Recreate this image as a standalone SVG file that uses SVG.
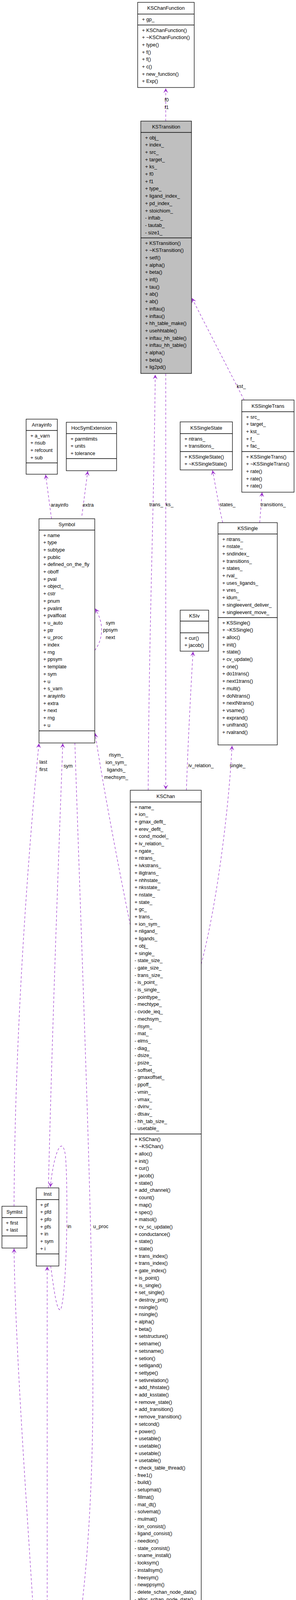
<svg xmlns="http://www.w3.org/2000/svg" width="759" height="4549" viewBox="0 0 759 4549">
<style>
.b{fill:#fff;stroke:#000;stroke-width:1.3}
.g{fill:#bfbfbf;stroke:#000;stroke-width:1.3}
.s{stroke:#000;stroke-width:1.3}
text{font-family:"Liberation Sans",Arial,sans-serif;font-size:12.7px;fill:#000}
.t{text-anchor:middle}
.e{fill:none;stroke:#9a32cd;stroke-width:1.2;stroke-dasharray:6,5;marker-end:url(#a)}
</style>
<defs>
<marker id="a" markerUnits="userSpaceOnUse" markerWidth="16" markerHeight="12" refX="12" refY="6" orient="auto">
<path d="M0,0 L12,6 L0,12 L5,6 z" fill="#9a32cd"/>
</marker>
</defs>
<rect width="759" height="4549" fill="#fff"/>
<g id="connectors">
<path class="e" d="M425,310 L425,226"/>
<path class="e" d="M380,2023 C382,1600 395,1300 398,959"/>
<path class="e" d="M425,957 L425,2021"/>
<path class="e" d="M626,1024 L492,763"/>
<path class="e" d="M571,1338 C560,1290 552,1240 545,1204"/>
<path class="e" d="M666,1338 L672,1260"/>
<path class="e" d="M478,2023 C482,1900 490,1750 495,1668"/>
<path class="e" d="M516,2468 C560,2300 588,2050 595,1909"/>
<path class="e" d="M334,2368 C300,2200 262,2000 244,1877"/>
<path class="e" d="M132,1328 L117,1215"/>
<path class="e" d="M210,1320 L225,1206"/>
<path class="e" d="M243,1665 C262,1640 270,1600 244,1558"/>
<path class="e" d="M36,3088 C38,2600 80,2100 100,1903"/>
<path class="e" d="M124,3041 C135,2600 150,2200 161,1903"/>
<path class="e" d="M192,1902 C215,2600 240,3200 238,3600 C236,3900 212,4200 164,4355"/>
<path class="e" d="M130,3241 C138,3300 146,3362 156,3352 C172,3300 175,3050 168,2960 C160,2900 138,2950 129,3039"/>
<path class="e" d="M99,4353 C80,4000 40,3500 36,3196"/>
<path class="e" d="M121,4353 L121,3242"/>
<path class="e" d="M335,4334 L335,4259"/>
<path class="e" d="M365,4258 L360,4333"/>
<path class="e" d="M453,4258 L463,4324"/>
<path class="e" d="M497,4325 L493,4259"/>
<text x="422" y="260">f0</text><text x="422" y="279">f1</text>
<text x="383" y="1296">trans_</text><text x="425" y="1296">ks_</text>
<text x="607" y="993">kst_</text>
<text x="563" y="1296">states_</text><text x="668" y="1296">transitions_</text>
<text x="483" y="1964">iv_relation_</text>
<text x="589" y="1964">single_</text>
<text class="t" x="298" y="1937">rlsym_</text><text class="t" x="298" y="1956">ion_sym_</text><text class="t" x="298" y="1975">ligands_</text><text class="t" x="298" y="1994">mechsym_</text>
<text x="101" y="1955">last</text><text x="101" y="1974">first</text>
<text x="163" y="1965">sym</text>
<text class="t" x="283" y="1599">sym</text><text class="t" x="283" y="1617">ppsym</text><text class="t" x="283" y="1636">next</text>
<text x="130" y="1297">arayinfo</text><text x="212" y="1297">extra</text>
<text x="173" y="3144">in</text><text x="239" y="3144">u_proc</text>
<text x="90" y="4295">list</text><text x="121" y="4295">defn</text>
<text x="335" y="4295">ks_</text><text x="362" y="4295">state_</text>
<text x="458" y="4295">gc_</text><text x="493" y="4295">ks_</text>
</g>
<g id="KSChanFunction">
<rect class="b" x="353" y="6" width="145" height="218"/>
<line class="s" x1="353" y1="36" x2="498" y2="36"/><line class="s" x1="353" y1="64" x2="498" y2="64"/>
<text class="t" x="425.5" y="25">KSChanFunction</text>
<text x="364" y="53.5">+ gp_</text>
<text x="364" y="81.5"><tspan x="364">+ KSChanFunction()</tspan><tspan x="364" dy="18.7">+ ~KSChanFunction()</tspan><tspan x="364" dy="18.7">+ type()</tspan><tspan x="364" dy="18.7">+ f()</tspan><tspan x="364" dy="18.7">+ f()</tspan><tspan x="364" dy="18.7">+ c()</tspan><tspan x="364" dy="18.7">+ new_function()</tspan><tspan x="364" dy="18.7">+ Exp()</tspan></text>
</g>
<g id="KSTransition">
<rect class="g" x="361" y="310" width="130" height="646"/>
<line class="s" x1="361" y1="339" x2="491" y2="339"/><line class="s" x1="361" y1="609" x2="491" y2="609"/>
<text class="t" x="426" y="329">KSTransition</text>
<text x="372" y="356.5"><tspan x="372">+ obj_</tspan><tspan x="372" dy="18.7">+ index_</tspan><tspan x="372" dy="18.7">+ src_</tspan><tspan x="372" dy="18.7">+ target_</tspan><tspan x="372" dy="18.7">+ ks_</tspan><tspan x="372" dy="18.7">+ f0</tspan><tspan x="372" dy="18.7">+ f1</tspan><tspan x="372" dy="18.7">+ type_</tspan><tspan x="372" dy="18.7">+ ligand_index_</tspan><tspan x="372" dy="18.7">+ pd_index_</tspan><tspan x="372" dy="18.7">+ stoichiom_</tspan><tspan x="372" dy="18.7">- inftab_</tspan><tspan x="372" dy="18.7">- tautab_</tspan><tspan x="372" dy="18.7">- size1_</tspan></text>
<text x="372" y="626.5"><tspan x="372">+ KSTransition()</tspan><tspan x="372" dy="18.7">+ ~KSTransition()</tspan><tspan x="372" dy="18.7">+ setf()</tspan><tspan x="372" dy="18.7">+ alpha()</tspan><tspan x="372" dy="18.7">+ beta()</tspan><tspan x="372" dy="18.7">+ inf()</tspan><tspan x="372" dy="18.7">+ tau()</tspan><tspan x="372" dy="18.7">+ ab()</tspan><tspan x="372" dy="18.7">+ ab()</tspan><tspan x="372" dy="18.7">+ inftau()</tspan><tspan x="372" dy="18.7">+ inftau()</tspan><tspan x="372" dy="18.7">+ hh_table_make()</tspan><tspan x="372" dy="18.7">+ usehhtable()</tspan><tspan x="372" dy="18.7">+ inftau_hh_table()</tspan><tspan x="372" dy="18.7">+ inftau_hh_table()</tspan><tspan x="372" dy="18.7">+ alpha()</tspan><tspan x="372" dy="18.7">+ beta()</tspan><tspan x="372" dy="18.7">+ lig2pd()</tspan></text>
</g>
<g id="Arrayinfo">
<rect class="b" x="67" y="1073" width="80" height="141"/>
<line class="s" x1="67" y1="1102" x2="147" y2="1102"/><line class="s" x1="67" y1="1185" x2="147" y2="1185"/>
<text class="t" x="107" y="1092">Arrayinfo</text>
<text x="78" y="1119.5"><tspan x="78">+ a_varn</tspan><tspan x="78" dy="18.7">+ nsub</tspan><tspan x="78" dy="18.7">+ refcount</tspan><tspan x="78" dy="18.7">+ sub</tspan></text>
</g>
<g id="HocSymExtension">
<rect class="b" x="170" y="1081" width="129" height="124"/>
<line class="s" x1="170" y1="1110" x2="299" y2="1110"/><line class="s" x1="170" y1="1174" x2="299" y2="1174"/>
<text class="t" x="234.5" y="1100">HocSymExtension</text>
<text x="181" y="1127.5"><tspan x="181">+ parmlimits</tspan><tspan x="181" dy="18.7">+ units</tspan><tspan x="181" dy="18.7">+ tolerance</tspan></text>
</g>
<g id="KSSingleTrans">
<rect class="b" x="620" y="1024" width="134" height="236"/>
<line class="s" x1="620" y1="1054" x2="754" y2="1054"/><line class="s" x1="620" y1="1156" x2="754" y2="1156"/>
<text class="t" x="687" y="1044">KSSingleTrans</text>
<text x="631" y="1071.5"><tspan x="631">+ src_</tspan><tspan x="631" dy="18.7">+ target_</tspan><tspan x="631" dy="18.7">+ kst_</tspan><tspan x="631" dy="18.7">+ f_</tspan><tspan x="631" dy="18.7">+ fac_</tspan></text>
<text x="631" y="1173.5"><tspan x="631">+ KSSingleTrans()</tspan><tspan x="631" dy="18.7">+ ~KSSingleTrans()</tspan><tspan x="631" dy="18.7">+ rate()</tspan><tspan x="631" dy="18.7">+ rate()</tspan><tspan x="631" dy="18.7">+ rate()</tspan></text>
</g>
<g id="KSSingleState">
<rect class="b" x="462" y="1080" width="134" height="123"/>
<line class="s" x1="462" y1="1110" x2="596" y2="1110"/><line class="s" x1="462" y1="1156" x2="596" y2="1156"/>
<text class="t" x="529" y="1100">KSSingleState</text>
<text x="473" y="1127.5"><tspan x="473">+ ntrans_</tspan><tspan x="473" dy="18.7">+ transitions_</tspan></text>
<text x="473" y="1173.5"><tspan x="473">+ KSSingleState()</tspan><tspan x="473" dy="18.7">+ ~KSSingleState()</tspan></text>
</g>
<g id="KSSingle">
<rect class="b" x="559" y="1338" width="152" height="569"/>
<line class="s" x1="559" y1="1367" x2="711" y2="1367"/><line class="s" x1="559" y1="1581" x2="711" y2="1581"/>
<text class="t" x="635" y="1357">KSSingle</text>
<text x="570" y="1384.5"><tspan x="570">+ ntrans_</tspan><tspan x="570" dy="18.7">+ nstate_</tspan><tspan x="570" dy="18.7">+ sndindex_</tspan><tspan x="570" dy="18.7">+ transitions_</tspan><tspan x="570" dy="18.7">+ states_</tspan><tspan x="570" dy="18.7">+ rval_</tspan><tspan x="570" dy="18.7">+ uses_ligands_</tspan><tspan x="570" dy="18.7">+ vres_</tspan><tspan x="570" dy="18.7">+ idum_</tspan><tspan x="570" dy="18.7">+ singleevent_deliver_</tspan><tspan x="570" dy="18.7">+ singleevent_move_</tspan></text>
<text x="570" y="1598.5"><tspan x="570">+ KSSingle()</tspan><tspan x="570" dy="18.7">+ ~KSSingle()</tspan><tspan x="570" dy="18.7">+ alloc()</tspan><tspan x="570" dy="18.7">+ init()</tspan><tspan x="570" dy="18.7">+ state()</tspan><tspan x="570" dy="18.7">+ cv_update()</tspan><tspan x="570" dy="18.7">+ one()</tspan><tspan x="570" dy="18.7">+ do1trans()</tspan><tspan x="570" dy="18.7">+ next1trans()</tspan><tspan x="570" dy="18.7">+ multi()</tspan><tspan x="570" dy="18.7">+ doNtrans()</tspan><tspan x="570" dy="18.7">+ nextNtrans()</tspan><tspan x="570" dy="18.7">+ vsame()</tspan><tspan x="570" dy="18.7">+ exprand()</tspan><tspan x="570" dy="18.7">+ unifrand()</tspan><tspan x="570" dy="18.7">+ rvalrand()</tspan></text>
</g>
<g id="KSIv">
<rect class="b" x="462" y="1562" width="73" height="105"/>
<line class="s" x1="462" y1="1590" x2="535" y2="1590"/><line class="s" x1="462" y1="1620" x2="535" y2="1620"/>
<text class="t" x="498.5" y="1581">KSIv</text>
<text x="473" y="1637.5"><tspan x="473">+ cur()</tspan><tspan x="473" dy="18.7">+ jacob()</tspan></text>
</g>
<g id="Symbol">
<rect class="b" x="100" y="1328" width="143" height="574"/>
<line class="s" x1="100" y1="1357" x2="243" y2="1357"/><line class="s" x1="100" y1="1871" x2="243" y2="1871"/>
<text class="t" x="171.5" y="1347">Symbol</text>
<text x="111" y="1374.5"><tspan x="111">+ name</tspan><tspan x="111" dy="18.7">+ type</tspan><tspan x="111" dy="18.7">+ subtype</tspan><tspan x="111" dy="18.7">+ public</tspan><tspan x="111" dy="18.7">+ defined_on_the_fly</tspan><tspan x="111" dy="18.7">+ oboff</tspan><tspan x="111" dy="18.7">+ pval</tspan><tspan x="111" dy="18.7">+ object_</tspan><tspan x="111" dy="18.7">+ cstr</tspan><tspan x="111" dy="18.7">+ pnum</tspan><tspan x="111" dy="18.7">+ pvalint</tspan><tspan x="111" dy="18.7">+ pvalfloat</tspan><tspan x="111" dy="18.7">+ u_auto</tspan><tspan x="111" dy="18.7">+ ptr</tspan><tspan x="111" dy="18.7">+ u_proc</tspan><tspan x="111" dy="18.7">+ index</tspan><tspan x="111" dy="18.7">+ rng</tspan><tspan x="111" dy="18.7">+ ppsym</tspan><tspan x="111" dy="18.7">+ template</tspan><tspan x="111" dy="18.7">+ sym</tspan><tspan x="111" dy="18.7">+ u</tspan><tspan x="111" dy="18.7">+ s_varn</tspan><tspan x="111" dy="18.7">+ arayinfo</tspan><tspan x="111" dy="18.7">+ extra</tspan><tspan x="111" dy="18.7">+ next</tspan><tspan x="111" dy="18.7">+ rng</tspan><tspan x="111" dy="18.7">+ u</tspan></text>
</g>
<g id="KSChan">
<rect class="b" x="334" y="2023" width="182" height="2235"/>
<line class="s" x1="334" y1="2053" x2="516" y2="2053"/><line class="s" x1="334" y1="2903" x2="516" y2="2903"/>
<text class="t" x="425" y="2043">KSChan</text>
<text x="345" y="2070.5"><tspan x="345">+ name_</tspan><tspan x="345" dy="18.7">+ ion_</tspan><tspan x="345" dy="18.7">+ gmax_deflt_</tspan><tspan x="345" dy="18.7">+ erev_deflt_</tspan><tspan x="345" dy="18.7">+ cond_model_</tspan><tspan x="345" dy="18.7">+ iv_relation_</tspan><tspan x="345" dy="18.7">+ ngate_</tspan><tspan x="345" dy="18.7">+ ntrans_</tspan><tspan x="345" dy="18.7">+ ivkstrans_</tspan><tspan x="345" dy="18.7">+ iligtrans_</tspan><tspan x="345" dy="18.7">+ nhhstate_</tspan><tspan x="345" dy="18.7">+ nksstate_</tspan><tspan x="345" dy="18.7">+ nstate_</tspan><tspan x="345" dy="18.7">+ state_</tspan><tspan x="345" dy="18.7">+ gc_</tspan><tspan x="345" dy="18.7">+ trans_</tspan><tspan x="345" dy="18.7">+ ion_sym_</tspan><tspan x="345" dy="18.7">+ nligand_</tspan><tspan x="345" dy="18.7">+ ligands_</tspan><tspan x="345" dy="18.7">+ obj_</tspan><tspan x="345" dy="18.7">+ single_</tspan><tspan x="345" dy="18.7">- state_size_</tspan><tspan x="345" dy="18.7">- gate_size_</tspan><tspan x="345" dy="18.7">- trans_size_</tspan><tspan x="345" dy="18.7">- is_point_</tspan><tspan x="345" dy="18.7">- is_single_</tspan><tspan x="345" dy="18.7">- pointtype_</tspan><tspan x="345" dy="18.7">- mechtype_</tspan><tspan x="345" dy="18.7">- cvode_ieq_</tspan><tspan x="345" dy="18.7">- mechsym_</tspan><tspan x="345" dy="18.7">- rlsym_</tspan><tspan x="345" dy="18.7">- mat_</tspan><tspan x="345" dy="18.7">- elms_</tspan><tspan x="345" dy="18.7">- diag_</tspan><tspan x="345" dy="18.7">- dsize_</tspan><tspan x="345" dy="18.7">- psize_</tspan><tspan x="345" dy="18.7">- soffset_</tspan><tspan x="345" dy="18.7">- gmaxoffset_</tspan><tspan x="345" dy="18.7">- ppoff_</tspan><tspan x="345" dy="18.7">- vmin_</tspan><tspan x="345" dy="18.7">- vmax_</tspan><tspan x="345" dy="18.7">- dvinv_</tspan><tspan x="345" dy="18.7">- dtsav_</tspan><tspan x="345" dy="18.7">- hh_tab_size_</tspan><tspan x="345" dy="18.7">- usetable_</tspan></text>
<text x="345" y="2920.5"><tspan x="345">+ KSChan()</tspan><tspan x="345" dy="18.7">+ ~KSChan()</tspan><tspan x="345" dy="18.7">+ alloc()</tspan><tspan x="345" dy="18.7">+ init()</tspan><tspan x="345" dy="18.7">+ cur()</tspan><tspan x="345" dy="18.7">+ jacob()</tspan><tspan x="345" dy="18.7">+ state()</tspan><tspan x="345" dy="18.7">+ add_channel()</tspan><tspan x="345" dy="18.7">+ count()</tspan><tspan x="345" dy="18.7">+ map()</tspan><tspan x="345" dy="18.7">+ spec()</tspan><tspan x="345" dy="18.7">+ matsol()</tspan><tspan x="345" dy="18.7">+ cv_sc_update()</tspan><tspan x="345" dy="18.7">+ conductance()</tspan><tspan x="345" dy="18.7">+ state()</tspan><tspan x="345" dy="18.7">+ state()</tspan><tspan x="345" dy="18.7">+ trans_index()</tspan><tspan x="345" dy="18.7">+ trans_index()</tspan><tspan x="345" dy="18.7">+ gate_index()</tspan><tspan x="345" dy="18.7">+ is_point()</tspan><tspan x="345" dy="18.7">+ is_single()</tspan><tspan x="345" dy="18.7">+ set_single()</tspan><tspan x="345" dy="18.7">+ destroy_pnt()</tspan><tspan x="345" dy="18.7">+ nsingle()</tspan><tspan x="345" dy="18.7">+ nsingle()</tspan><tspan x="345" dy="18.7">+ alpha()</tspan><tspan x="345" dy="18.7">+ beta()</tspan><tspan x="345" dy="18.7">+ setstructure()</tspan><tspan x="345" dy="18.7">+ setname()</tspan><tspan x="345" dy="18.7">+ setsname()</tspan><tspan x="345" dy="18.7">+ setion()</tspan><tspan x="345" dy="18.7">+ setligand()</tspan><tspan x="345" dy="18.7">+ settype()</tspan><tspan x="345" dy="18.7">+ setivrelation()</tspan><tspan x="345" dy="18.7">+ add_hhstate()</tspan><tspan x="345" dy="18.7">+ add_ksstate()</tspan><tspan x="345" dy="18.7">+ remove_state()</tspan><tspan x="345" dy="18.7">+ add_transition()</tspan><tspan x="345" dy="18.7">+ remove_transition()</tspan><tspan x="345" dy="18.7">+ setcond()</tspan><tspan x="345" dy="18.7">+ power()</tspan><tspan x="345" dy="18.7">+ usetable()</tspan><tspan x="345" dy="18.7">+ usetable()</tspan><tspan x="345" dy="18.7">+ usetable()</tspan><tspan x="345" dy="18.7">+ usetable()</tspan><tspan x="345" dy="18.7">+ check_table_thread()</tspan><tspan x="345" dy="18.7">- free1()</tspan><tspan x="345" dy="18.7">- build()</tspan><tspan x="345" dy="18.7">- setupmat()</tspan><tspan x="345" dy="18.7">- fillmat()</tspan><tspan x="345" dy="18.7">- mat_dt()</tspan><tspan x="345" dy="18.7">- solvemat()</tspan><tspan x="345" dy="18.7">- mulmat()</tspan><tspan x="345" dy="18.7">- ion_consist()</tspan><tspan x="345" dy="18.7">- ligand_consist()</tspan><tspan x="345" dy="18.7">- needion()</tspan><tspan x="345" dy="18.7">- state_consist()</tspan><tspan x="345" dy="18.7">- sname_install()</tspan><tspan x="345" dy="18.7">- looksym()</tspan><tspan x="345" dy="18.7">- installsym()</tspan><tspan x="345" dy="18.7">- freesym()</tspan><tspan x="345" dy="18.7">- newppsym()</tspan><tspan x="345" dy="18.7">- delete_schan_node_data()</tspan><tspan x="345" dy="18.7">- alloc_schan_node_data()</tspan><tspan x="345" dy="18.7">- update_prop()</tspan><tspan x="345" dy="18.7">- state_insert()</tspan><tspan x="345" dy="18.7">- state_remove()</tspan><tspan x="345" dy="18.7">- gate_insert()</tspan><tspan x="345" dy="18.7">- gate_remove()</tspan><tspan x="345" dy="18.7">- trans_insert()</tspan><tspan x="345" dy="18.7">- trans_remove()</tspan><tspan x="345" dy="18.7">- check_struct()</tspan></text>
</g>
<g id="Symlist">
<rect class="b" x="5" y="3088" width="64" height="107"/>
<line class="s" x1="5" y1="3117" x2="69" y2="3117"/><line class="s" x1="5" y1="3164" x2="69" y2="3164"/>
<text class="t" x="37" y="3107">Symlist</text>
<text x="15" y="3134.5"><tspan x="15">+ first</tspan><tspan x="15" dy="18.7">+ last</tspan></text>
</g>
<g id="Inst">
<rect class="b" x="93" y="3041" width="58" height="200"/>
<line class="s" x1="93" y1="3071" x2="151" y2="3071"/><line class="s" x1="93" y1="3210" x2="151" y2="3210"/>
<text class="t" x="122" y="3061">Inst</text>
<text x="103" y="3088.5"><tspan x="103">+ pf</tspan><tspan x="103" dy="18.7">+ pfd</tspan><tspan x="103" dy="18.7">+ pfo</tspan><tspan x="103" dy="18.7">+ pfs</tspan><tspan x="103" dy="18.7">+ in</tspan><tspan x="103" dy="18.7">+ sym</tspan><tspan x="103" dy="18.7">+ i</tspan></text>
</g>
<g id="Proc">
<rect class="b" x="80" y="4353" width="83" height="163"/>
<line class="s" x1="80" y1="4383" x2="163" y2="4383"/><line class="s" x1="80" y1="4485" x2="163" y2="4485"/>
<text class="t" x="121.5" y="4373">Proc</text>
<text x="91" y="4400.5"><tspan x="91">+ defn</tspan><tspan x="91" dy="18.7">+ size</tspan><tspan x="91" dy="18.7">+ list</tspan><tspan x="91" dy="18.7">+ nauto</tspan><tspan x="91" dy="18.7">+ nobjauto</tspan></text>
</g>
<g id="KSState">
<rect class="b" x="299" y="4334" width="97" height="199"/>
<line class="s" x1="299" y1="4363" x2="396" y2="4363"/><line class="s" x1="299" y1="4466" x2="396" y2="4466"/>
<text class="t" x="347.5" y="4353">KSState</text>
<text x="310" y="4380.5"><tspan x="310">+ f_</tspan><tspan x="310" dy="18.7">+ name_</tspan><tspan x="310" dy="18.7">+ index_</tspan><tspan x="310" dy="18.7">+ ks_</tspan><tspan x="310" dy="18.7">+ obj_</tspan></text>
<text x="310" y="4483.5"><tspan x="310">+ KSState()</tspan><tspan x="310" dy="18.7">+ ~KSState()</tspan><tspan x="310" dy="18.7">+ string()</tspan></text>
</g>
<g id="KSGateComplex">
<rect class="b" x="432" y="4325" width="145" height="215"/>
<line class="s" x1="432" y1="4354" x2="577" y2="4354"/><line class="s" x1="432" y1="4474" x2="577" y2="4474"/>
<text class="t" x="504.5" y="4344">KSGateComplex</text>
<text x="443" y="4371.5"><tspan x="443">+ obj_</tspan><tspan x="443" dy="18.7">+ ks_</tspan><tspan x="443" dy="18.7">+ index_</tspan><tspan x="443" dy="18.7">+ sindex_</tspan><tspan x="443" dy="18.7">+ nstate_</tspan><tspan x="443" dy="18.7">+ power_</tspan></text>
<text x="443" y="4491.5"><tspan x="443">+ KSGateComplex()</tspan><tspan x="443" dy="18.7">+ ~KSGateComplex()</tspan><tspan x="443" dy="18.7">+ conductance()</tspan></text>
</g>
</svg>
